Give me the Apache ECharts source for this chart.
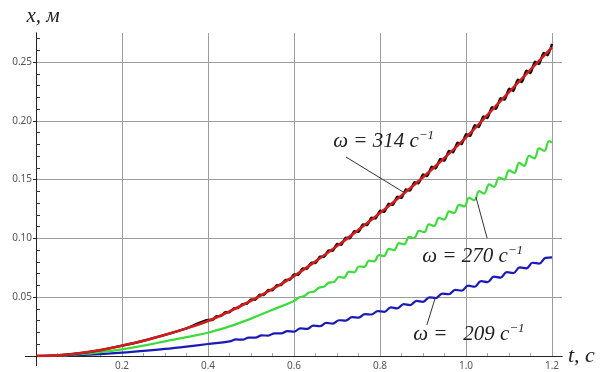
<!DOCTYPE html>
<html>
<head>
<meta charset="utf-8">
<script src="https://cdn.jsdelivr.net/npm/echarts@6/dist/echarts.min.js"></script>
<style>
  html, body { margin: 0; padding: 0; background: #fff; }
  #chart { width: 607px; height: 372px; }
</style>
</head>
<body>
<div id="chart"></div>
<script>
// Axis ticks and their labels
const xTicks = [0.2, 0.4, 0.6, 0.8, 1.0, 1.2];
const xTickLabels = ['0.2', '0.4', '0.6', '0.8', '1.0', '1.2'];
const xMinorTicks = [0.05, 0.1, 0.15, 0.25, 0.3, 0.35, 0.45, 0.5, 0.55, 0.65, 0.7, 0.75,
                     0.85, 0.9, 0.95, 1.05, 1.1, 1.15];
const yTicks = [0.05, 0.10, 0.15, 0.20, 0.25];
const yTickLabels = ['0.05', '0.10', '0.15', '0.20', '0.25'];
const yMinorTicks = [0.01, 0.02, 0.03, 0.04, 0.06, 0.07, 0.08, 0.09, 0.11, 0.12, 0.13, 0.14,
                     0.16, 0.17, 0.18, 0.19, 0.21, 0.22, 0.23, 0.24, 0.26, 0.27];

// ω = 314 1/s : averaged displacement (red) and full displacement with ripple (black)
const mean314 = [
  [0, 0], [0.05, 0.0005], [0.1, 0.0023], [0.15, 0.005], [0.2, 0.0088], [0.25, 0.013],
  [0.3, 0.018], [0.35, 0.0235], [0.4, 0.0298], [0.45, 0.038], [0.5, 0.047], [0.55, 0.057],
  [0.6, 0.068], [0.65, 0.0805], [0.7, 0.0935], [0.75, 0.1073], [0.8, 0.1216], [0.85, 0.1365],
  [0.9, 0.152], [0.95, 0.1685], [1.0, 0.186], [1.05, 0.205], [1.1, 0.2245], [1.15, 0.2435],
  [1.2, 0.2625]
];
const ripple314 = [
  [0, 0], [0.05, 0.0005], [0.1, 0.0023], [0.15, 0.005], [0.2, 0.0088], [0.25, 0.013],
  [0.3, 0.018], [0.35, 0.0235],
  [0.40, 0.0306], [0.41, 0.0306], [0.42, 0.0339], [0.43, 0.0339], [0.44, 0.0372], [0.45, 0.0372],
  [0.46, 0.0406], [0.47, 0.0408], [0.48, 0.0442], [0.49, 0.0444], [0.50, 0.0481], [0.51, 0.0479],
  [0.52, 0.0521], [0.53, 0.0519], [0.54, 0.0561], [0.55, 0.0559], [0.56, 0.0603], [0.57, 0.0603],
  [0.58, 0.0647], [0.59, 0.0647], [0.60, 0.0694], [0.61, 0.0691], [0.62, 0.0744], [0.63, 0.0741],
  [0.64, 0.0794], [0.65, 0.0791], [0.66, 0.0845], [0.67, 0.0843], [0.68, 0.0897], [0.69, 0.0895],
  [0.70, 0.0952], [0.71, 0.0946], [0.72, 0.1007], [0.73, 0.1001], [0.74, 0.1062], [0.75, 0.1056],
  [0.76, 0.1119], [0.77, 0.1113], [0.78, 0.1176], [0.79, 0.1170], [0.80, 0.1236], [0.81, 0.1226],
  [0.82, 0.1296], [0.83, 0.1285], [0.84, 0.1355], [0.85, 0.1345], [0.86, 0.1416], [0.87, 0.1407],
  [0.88, 0.1478], [0.89, 0.1469], [0.90, 0.1543], [0.91, 0.1530], [0.92, 0.1609], [0.93, 0.1596],
  [0.94, 0.1675], [0.95, 0.1662], [0.96, 0.1743], [0.97, 0.1732], [0.98, 0.1813], [0.99, 0.1802],
  [1.00, 0.1886], [1.01, 0.1872], [1.02, 0.1962], [1.03, 0.1948], [1.04, 0.2038], [1.05, 0.2024],
  [1.06, 0.2115], [1.07, 0.2102], [1.08, 0.2193], [1.09, 0.2180], [1.10, 0.2274], [1.11, 0.2254],
  [1.12, 0.2350], [1.13, 0.2330], [1.14, 0.2426], [1.15, 0.2406], [1.16, 0.2502], [1.17, 0.2482],
  [1.18, 0.2578], [1.19, 0.2558], [1.20, 0.2654]
];

// ω = 270 1/s
const disp270 = [
  [0, 0], [0.05, 0.0003], [0.1, 0.0015], [0.15, 0.0033], [0.2, 0.0057], [0.25, 0.0088],
  [0.3, 0.0125], [0.35, 0.016], [0.4, 0.0198], [0.45, 0.0252], [0.5, 0.0318], [0.55, 0.0393],
  [0.600, 0.0468], [0.612, 0.0500], [0.623, 0.0508], [0.635, 0.0540], [0.647, 0.0549],
  [0.658, 0.0581], [0.670, 0.0590], [0.681, 0.0624], [0.693, 0.0630], [0.705, 0.0674],
  [0.716, 0.0666], [0.728, 0.0717], [0.740, 0.0712], [0.751, 0.0761], [0.763, 0.0758],
  [0.775, 0.0811], [0.786, 0.0805], [0.798, 0.0858], [0.809, 0.0849], [0.821, 0.0911],
  [0.833, 0.0901], [0.844, 0.0960], [0.856, 0.0950], [0.868, 0.1013], [0.879, 0.1002],
  [0.891, 0.1065], [0.903, 0.1053], [0.914, 0.1120], [0.926, 0.1106], [0.937, 0.1174],
  [0.949, 0.1160], [0.961, 0.1230], [0.972, 0.1215], [0.984, 0.1286], [0.996, 0.1272],
  [1.007, 0.1344], [1.019, 0.1325], [1.031, 0.1403], [1.042, 0.1381], [1.054, 0.1459],
  [1.065, 0.1439], [1.077, 0.1518], [1.089, 0.1500], [1.100, 0.1579], [1.112, 0.1557],
  [1.124, 0.1642], [1.135, 0.1617], [1.147, 0.1703], [1.159, 0.1681], [1.170, 0.1765],
  [1.182, 0.1744], [1.193, 0.1828], [1.200, 0.1815]
];

// ω = 209 1/s
const disp209 = [
  [0, 0], [0.05, 0.0002], [0.1, 0.0007], [0.15, 0.0016], [0.2, 0.0028], [0.25, 0.0043],
  [0.3, 0.006], [0.35, 0.008], [0.4, 0.0102],
  [0.450, 0.0124], [0.465, 0.0141], [0.480, 0.0139], [0.495, 0.0157], [0.510, 0.0156],
  [0.525, 0.0175], [0.540, 0.0174], [0.555, 0.0193], [0.570, 0.0192], [0.585, 0.0211],
  [0.600, 0.0207], [0.615, 0.0235], [0.630, 0.0230], [0.645, 0.0258], [0.660, 0.0253],
  [0.675, 0.0281], [0.690, 0.0276], [0.705, 0.0304], [0.720, 0.0301], [0.735, 0.0330],
  [0.750, 0.0327], [0.765, 0.0356], [0.780, 0.0353], [0.795, 0.0382], [0.810, 0.0376],
  [0.825, 0.0413], [0.840, 0.0405], [0.855, 0.0441], [0.870, 0.0433], [0.885, 0.0469],
  [0.900, 0.0461], [0.915, 0.0499], [0.930, 0.0493], [0.945, 0.0531], [0.960, 0.0525],
  [0.975, 0.0563], [0.990, 0.0556], [1.005, 0.0598], [1.020, 0.0589], [1.035, 0.0637],
  [1.050, 0.0628], [1.065, 0.0675], [1.080, 0.0666], [1.095, 0.0713], [1.110, 0.0705],
  [1.125, 0.0753], [1.140, 0.0745], [1.155, 0.0793], [1.170, 0.0786], [1.185, 0.0834],
  [1.200, 0.0838]
];

// Callout texts and where they sit (data coordinates) with their leader lines
const callouts = [
  { series: '314', text: '314', at: [0.691, 0.1828], from: [0.721, 0.1692], to: [0.856, 0.139], gap: '' },
  { series: '270', text: '270', at: [0.898, 0.0850], from: [1.023, 0.1352], to: [1.049, 0.1003], gap: '' },
  { series: '209', text: '209', at: [0.877, 0.0187], from: [0.928, 0.0490], to: [0.909, 0.0264], gap: '  ' }
];

const X_MAX = 1.2232;
const Y_MAX = 0.2747;
const serif = 'Liberation Serif';
const tickFont = { fontFamily: 'Noto Sans', fontSize: 10, color: '#555' };
const gridColor = '#9c9c9c';
const axisColor = '#222';

function calloutFor(key) {
  const c = callouts.find(o => o.series === key);
  return {
    markLine: {
      silent: true,
      symbol: ['none', 'none'],
      animation: false,
      label: { show: false },
      lineStyle: { color: '#333', width: 1, type: 'solid' },
      emphasis: { disabled: true },
      data: [[{ coord: c.from }, { coord: c.to }]]
    },
    markPoint: {
      silent: true,
      animation: false,
      symbol: 'circle',
      symbolSize: 0,
      data: [{ coord: c.at }],
      label: {
        show: true,
        position: 'right',
        distance: 0,
        formatter: '{m|ω = ' + c.gap + c.text + ' c}{s|−1}',
        rich: {
          m: { fontFamily: serif, fontStyle: 'italic', fontSize: 21, color: '#222', lineHeight: 24 },
          s: { fontFamily: serif, fontStyle: 'italic', fontSize: 13, color: '#222', verticalAlign: 'top', lineHeight: 14 }
        }
      }
    }
  };
}

function lineSeries(name, data, color, width, smooth, z, extra) {
  return Object.assign({
    name: name,
    type: 'line',
    xAxisIndex: 0,
    yAxisIndex: 0,
    data: data,
    showSymbol: false,
    symbol: 'none',
    smooth: smooth,
    z: z,
    animation: false,
    silent: true,
    lineStyle: { color: color, width: width, join: 'round' }
  }, extra || {});
}

const labelFor = (ticks, labels) => v => {
  const i = ticks.findIndex(t => Math.abs(t - v) < 1e-6);
  return i >= 0 ? labels[i] : '';
};

const chart = echarts.init(document.getElementById('chart'), null, { renderer: 'canvas' });

chart.setOption({
  backgroundColor: '#fff',
  animation: false,
  grid: { left: 36, right: 45, top: 33, bottom: 16, outerBoundsMode: 'none' },
  xAxis: [
    {
      type: 'value', min: 0, max: X_MAX, interval: 0.2,
      name: 't, c', nameLocation: 'end', nameGap: 6,
      nameTextStyle: { fontFamily: serif, fontStyle: 'italic', fontSize: 22, color: '#222', padding: [0, 0, 10, 0] },
      axisLine: { show: true, onZero: false, lineStyle: { color: axisColor, width: 1 } },
      axisTick: { show: false, customValues: xTicks },
      axisLabel: { show: true, margin: 5, customValues: xTicks, formatter: labelFor(xTicks, xTickLabels), ...tickFont },
      splitLine: { show: true, lineStyle: { color: gridColor, width: 1 } },
      minorTick: { show: false }
    },
    {
      type: 'value', min: 0, max: X_MAX, interval: 0.05, position: 'bottom',
      axisLine: { show: true, onZero: false, lineStyle: { color: axisColor, width: 1 } },
      axisTick: { show: true, inside: true, length: 3, customValues: xMinorTicks, lineStyle: { color: '#a8a8a8' } },
      axisLabel: { show: false },
      splitLine: { show: false }
    }
  ],
  yAxis: [
    {
      type: 'value', min: 0, max: Y_MAX, interval: 0.05,
      name: 'x, м', nameLocation: 'end', nameGap: 6,
      nameTextStyle: { fontFamily: serif, fontStyle: 'italic', fontSize: 21, color: '#222', padding: [0, 0, 0, 14] },
      axisLine: { show: true, onZero: false, lineStyle: { color: axisColor, width: 1 } },
      axisTick: { show: true, inside: false, length: 3, customValues: yTicks, lineStyle: { color: axisColor } },
      axisLabel: { show: true, margin: 4, customValues: yTicks, formatter: labelFor(yTicks, yTickLabels), ...tickFont },
      splitLine: { show: true, lineStyle: { color: gridColor, width: 1 } }
    },
    {
      type: 'value', min: 0, max: Y_MAX, interval: 0.01, position: 'left',
      axisLine: { show: true, onZero: false, lineStyle: { color: axisColor, width: 1 } },
      axisTick: { show: true, inside: true, length: 4, customValues: yMinorTicks, lineStyle: { color: '#333' } },
      axisLabel: { show: false },
      splitLine: { show: false }
    }
  ],
  series: [
    lineSeries('209', disp209, '#1a1ab8', 2.2, 0.4, 3, calloutFor('209')),
    lineSeries('270', disp270, '#3ddc3d', 2.2, 0.4, 3, calloutFor('270')),
    lineSeries('314 ripple', ripple314, '#111111', 2.4, 0.15, 4),
    lineSeries('314', mean314, '#cf1c1c', 2.6, true, 5, calloutFor('314'))
  ]
});

// Axis lines cross a little beyond the origin
const origin = chart.convertToPixel({ gridIndex: 0 }, [0, 0]);
chart.setOption({
  graphic: [
    { type: 'line', silent: true, z: 10, shape: { x1: origin[0] - 11, y1: origin[1] + 0.5, x2: origin[0], y2: origin[1] + 0.5 }, style: { stroke: axisColor, lineWidth: 1 } },
    { type: 'line', silent: true, z: 10, shape: { x1: origin[0] + 0.5, y1: origin[1], x2: origin[0] + 0.5, y2: origin[1] + 10 }, style: { stroke: axisColor, lineWidth: 1 } }
  ]
});
</script>
</body>
</html>
